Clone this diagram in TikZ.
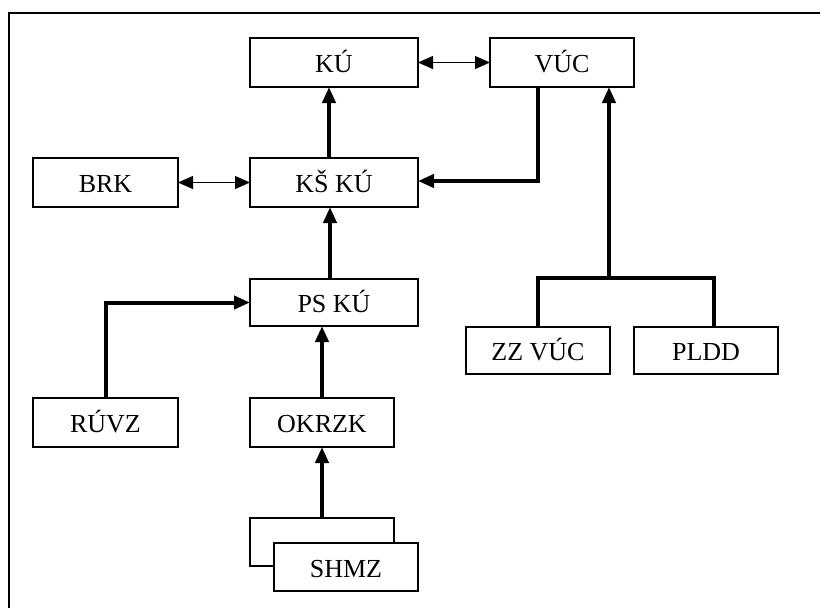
\documentclass[tikz,border=0pt]{standalone}
\usepackage{fontspec}
\setmainfont{Liberation Serif}
\usetikzlibrary{arrows.meta}
\begin{document}
\begin{tikzpicture}[x=1pt,y=-1pt,
  box/.style={draw,line width=2pt,fill=white,inner sep=0pt,outer sep=0pt,
    text height=23pt,text depth=3pt,
    font=\fontsize{26}{30}\selectfont},
  thinarr/.style={line width=1pt,{Triangle[length=15pt,width=13pt]}-{Triangle[length=15pt,width=13pt]}},
  thickarr/.style={line width=4pt,-{Triangle[length=16pt,width=13pt]}},
  thickline/.style={line width=4pt}]
\useasboundingbox (0,0) rectangle (820,608);
\draw[line width=2pt] (9,608) -- (9,13) -- (820,13);
\node[box,minimum width=168pt,minimum height=49pt] (ku) at (334,62.5) {KÚ};
\node[box,minimum width=144pt,minimum height=49pt] (vuc) at (562,62.5) {VÚC};
\node[box,minimum width=145pt,minimum height=49pt] (brk) at (105.5,182.5) {BRK};
\node[box,minimum width=168pt,minimum height=49pt] (ks) at (334,182.5) {KŠ KÚ};
\node[box,minimum width=168pt,minimum height=47pt] (ps) at (334,302.5) {PS KÚ};
\node[box,minimum width=145pt,minimum height=49pt] (ruvz) at (105.5,422.5) {RÚVZ};
\node[box,minimum width=144pt,minimum height=49pt] (ok) at (322,422.5) {OKRZK};
\node[box,minimum width=144pt,minimum height=48pt] (shb) at (322,542) {};
\node[box,minimum width=144pt,minimum height=48pt] (shmz) at (346,567) {SHMZ};
\node[box,minimum width=144pt,minimum height=47pt] (zz) at (538,350.5) {ZZ VÚC};
\node[box,minimum width=144pt,minimum height=47pt] (pldd) at (706,350.5) {PLDD};
\coordinate (br) at (609,278);
\draw[thinarr] (ku.east) -- (vuc.west);
\draw[thinarr] (brk.east) -- (ks.west);
\draw[thickarr] ([xshift=-5pt]ks.north) -- ([xshift=-5pt]ku.south);
\draw[thickarr] ([xshift=-24pt]vuc.south) |- ([yshift=1.5pt]ks.east);
\draw[thickline] (zz.north) |- (br) -| ([xshift=8pt]pldd.north);
\draw[thickarr] (br) -- ([xshift=47pt]vuc.south);
\draw[thickarr] ([xshift=-4pt]ps.north) -- ([xshift=-4pt]ks.south);
\draw[thickarr] (ruvz.north) |- (ps.west);
\draw[thickarr] (ok.north) -- (ok.north |- ps.south);
\draw[thickarr] (shb.north) -- (ok.south);
\end{tikzpicture}
\end{document}
